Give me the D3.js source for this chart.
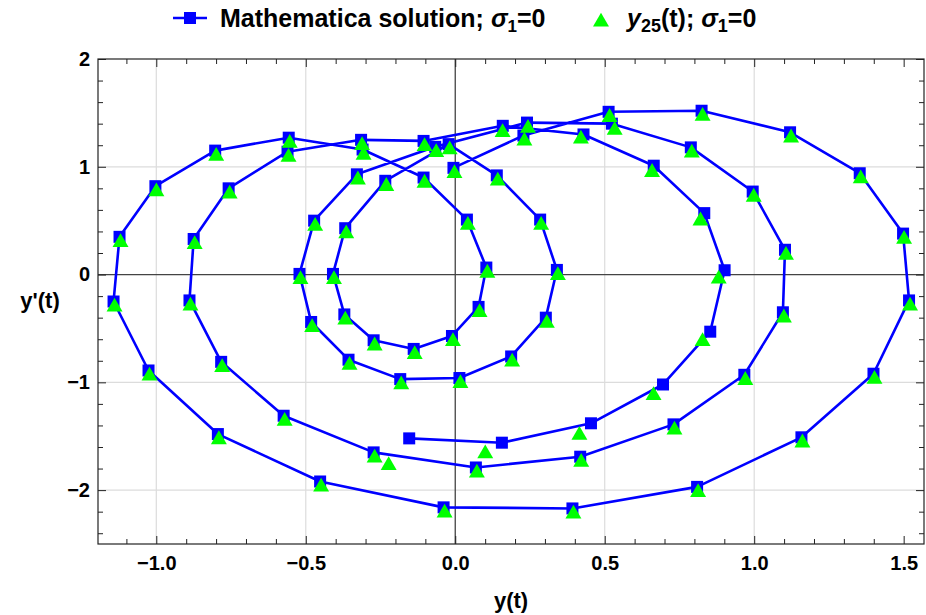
<!DOCTYPE html>
<html>
<head>
<meta charset="utf-8">
<script src="https://cdn.jsdelivr.net/npm/d3@7"></script>
<style>
body { margin: 0; background: #fff; }
text { font-family: "Liberation Sans", Arial, sans-serif; font-weight: bold; }
</style>
</head>
<body>
<div id="chart"></div>
<script>
// Mathematica solution, in time order: y(t) and y'(t)
var mmaY = [-0.006, 0.228, 0.513, 0.824, 1.12, 1.353, 1.498, 1.518, 1.399, 1.158,
  0.809, 0.392, -0.039, -0.452, -0.794, -1.026, -1.143, -1.123, -1.003, -0.803,
  -0.557, -0.310, -0.106, 0.039, 0.104, 0.078, -0.011, -0.139, -0.273, -0.371,
  -0.409, -0.368, -0.234, -0.022, 0.139, 0.284, 0.340, 0.303, 0.187, 0.014,
  -0.184, -0.357, -0.482, -0.521, -0.472, -0.329, -0.067, 0.240, 0.524, 0.788,
  0.995, 1.103, 1.096, 0.967, 0.730, 0.418, 0.069, -0.273, -0.574, -0.783,
  -0.889, -0.875, -0.758, -0.561, -0.315, -0.106, 0.159, 0.429, 0.664, 0.833,
  0.901, 0.853, 0.695, 0.454, 0.156, -0.154];
var mmaDY = [0.99, 1.29, 1.51, 1.52, 1.32, 0.94, 0.38, -0.24, -0.92, -1.51,
  -1.97, -2.17, -2.16, -1.92, -1.48, -0.89, -0.25, 0.35, 0.82, 1.15,
  1.27, 1.16, 0.90, 0.51, 0.065, -0.30, -0.57, -0.69, -0.61, -0.37,
  0.006, 0.43, 0.87, 1.21, 0.92, 0.51, 0.043, -0.40, -0.76, -0.96,
  -0.97, -0.79, -0.44, 0.006, 0.50, 0.93, 1.185, 1.41, 1.40, 1.18,
  0.77, 0.23, -0.35, -0.93, -1.39, -1.69, -1.79, -1.65, -1.31, -0.81,
  -0.24, 0.33, 0.80, 1.14, 1.25, 1.24, 1.38, 1.30, 1.01, 0.57,
  0.04, -0.53, -1.02, -1.38, -1.56, -1.52];

// y25(t) approximation at the same times
var y25Y = [-0.006, 0.228, 0.513, 0.824, 1.12, 1.353, 1.498, 1.518, 1.399, 1.158,
  0.809, 0.392, -0.039, -0.452, -0.794, -1.026, -1.143, -1.123, -1.003, -0.803,
  -0.557, -0.310, -0.106, 0.039, 0.104, 0.078, -0.011, -0.139, -0.273, -0.371,
  -0.409, -0.368, -0.234, -0.022, 0.139, 0.284, 0.340, 0.303, 0.187, 0.014,
  -0.184, -0.357, -0.482, -0.521, -0.472, -0.329, -0.067, 0.240, 0.530, 0.788,
  0.995, 1.103, 1.096, 0.967, 0.730, 0.418, 0.069, -0.273, -0.574, -0.783,
  -0.889, -0.875, -0.758, -0.561, -0.315, -0.106, 0.155, 0.417, 0.655, 0.817,
  0.878, 0.824, 0.660, 0.412, 0.097, -0.226];
var y25DY = [0.99, 1.29, 1.51, 1.52, 1.32, 0.94, 0.38, -0.24, -0.92, -1.51,
  -1.97, -2.17, -2.16, -1.92, -1.48, -0.89, -0.25, 0.35, 0.82, 1.15,
  1.27, 1.16, 0.90, 0.51, 0.065, -0.30, -0.57, -0.69, -0.61, -0.37,
  0.006, 0.43, 0.87, 1.21, 0.92, 0.51, 0.043, -0.40, -0.76, -0.96,
  -0.97, -0.79, -0.44, 0.006, 0.50, 0.93, 1.185, 1.41, 1.39, 1.18,
  0.77, 0.23, -0.35, -0.93, -1.39, -1.69, -1.79, -1.65, -1.31, -0.81,
  -0.24, 0.33, 0.80, 1.14, 1.25, 1.24, 1.37, 1.31, 1.00, 0.55,
  0.01, -0.57, -1.07, -1.44, -1.61, -1.72];

var xTicks = [-1.0, -0.5, 0.0, 0.5, 1.0, 1.5];
var xTickLabels = ["\u22121.0", "\u22120.5", "0.0", "0.5", "1.0", "1.5"];
var yTicks = [-2, -1, 0, 1, 2];
var yTickLabels = ["\u22122", "\u22121", "0", "1", "2"];
var xGrid = [-1.0, -0.5, 0.5, 1.0];
var yGrid = [-2, -1, 1];

var margin = {top: 59, right: 2, bottom: 71, left: 98},
    width = 926 - margin.left - margin.right,
    height = 615 - margin.top - margin.bottom;

var svg = d3.select("#chart")
  .append("svg")
    .attr("width", 926)
    .attr("height", 615);

var g = svg.append("g")
    .attr("transform", "translate(" + margin.left + "," + margin.top + ")");

var x = d3.scaleLinear().domain([-1.195, 1.568]).range([0, width]);
var y = d3.scaleLinear().domain([-2.5, 2]).range([height, 0]);

var blue = "#0000ff", green = "#00ff00";
var xMinor = d3.range(-11, 16).map(function(d) { return d / 10; }).filter(function(d) { return xTicks.indexOf(d) < 0; });
var yMinor = d3.range(-12, 11).map(function(d) { return d / 5; }).filter(function(d) { return yTicks.indexOf(d) < 0; });

// grid lines
g.selectAll(".gx").data(xGrid).enter().append("line")
  .attr("x1", d => x(d)).attr("x2", d => x(d))
  .attr("y1", 0).attr("y2", height)
  .attr("stroke", "#dcdcdc").attr("stroke-width", 1.2);
g.selectAll(".gy").data(yGrid).enter().append("line")
  .attr("x1", 0).attr("x2", width)
  .attr("y1", d => y(d)).attr("y2", d => y(d))
  .attr("stroke", "#dcdcdc").attr("stroke-width", 1.2);

// zero axes
g.append("line").attr("x1", x(0)).attr("x2", x(0)).attr("y1", 0).attr("y2", height)
  .attr("stroke", "#444").attr("stroke-width", 1.3);
g.append("line").attr("x1", 0).attr("x2", width).attr("y1", y(0)).attr("y2", y(0))
  .attr("stroke", "#444").attr("stroke-width", 1.3);

// frame ticks, pointing inwards
function tickAxis(axis, vals, size, labels, pad) {
  return axis.tickValues(vals).tickSizeInner(-size).tickSizeOuter(0).tickPadding(pad)
    .tickFormat(labels ? function(d, i) { return labels[i]; } : "");
}
var axes = [
  [d3.axisBottom, x, "translate(0," + height + ")", xTicks, xMinor, xTickLabels, 12],
  [d3.axisTop, x, "translate(0,0)", xTicks, xMinor, null, 12],
  [d3.axisLeft, y, "translate(0,0)", yTicks, yMinor, yTickLabels, 8],
  [d3.axisRight, y, "translate(" + width + ",0)", yTicks, yMinor, null, 8]
];
axes.forEach(function(a) {
  var maj = g.append("g").attr("transform", a[2]).call(tickAxis(a[0](a[1]), a[3], 8, a[5], a[6]));
  maj.select(".domain").remove();
  maj.selectAll("line").attr("stroke", "#222");
  maj.selectAll("text").style("font-size", "20px").style("font-family", "Liberation Sans, Arial, sans-serif").attr("fill", "#000");
  var mnr = g.append("g").attr("transform", a[2]).call(tickAxis(a[0](a[1]), a[4], 5, null, 0));
  mnr.select(".domain").remove();
  mnr.selectAll("line").attr("stroke", "#222");
});

// frame
g.append("rect").attr("width", width).attr("height", height)
  .attr("fill", "none").attr("stroke", "#222").attr("stroke-width", 1.2);

// Mathematica curve
var pts = mmaY.map(function(d, i) { return [d, mmaDY[i]]; });
var tri = y25Y.map(function(d, i) { return [d, y25DY[i]]; });

g.append("path")
  .datum(pts)
  .attr("fill", "none")
  .attr("stroke", blue)
  .attr("stroke-width", 2.6)
  .attr("stroke-linejoin", "round")
  .attr("d", d3.line().x(d => x(d[0])).y(d => y(d[1])));

g.selectAll(".sq").data(pts).enter().append("rect")
  .attr("x", d => x(d[0]) - 6).attr("y", d => y(d[1]) - 6)
  .attr("width", 12).attr("height", 12)
  .attr("fill", blue);

// triangle glyphs sit a little below their point, as in the original
var triangle = d3.symbol().type(d3.symbolTriangle).size(110);
g.selectAll(".tri").data(tri).enter().append("path")
  .attr("d", triangle)
  .attr("transform", d => "translate(" + (x(d[0]) + 1) + "," + (y(d[1]) + 5.5) + ")")
  .attr("fill", green);

// axis labels
svg.append("text").attr("x", margin.left + width / 2).attr("y", 608)
  .attr("text-anchor", "middle").style("font-size", "22px").text("y(t)");
svg.append("text").attr("x", 40).attr("y", 308)
  .attr("text-anchor", "middle").style("font-size", "22px").text("y'(t)");

// legend
var leg = svg.append("g");
leg.append("line").attr("x1", 173).attr("x2", 207).attr("y1", 18).attr("y2", 18)
  .attr("stroke", blue).attr("stroke-width", 2.6);
leg.append("rect").attr("x", 184).attr("y", 12).attr("width", 12).attr("height", 12).attr("fill", blue);
var t1 = leg.append("text").attr("x", 220).attr("y", 27).style("font-size", "25px");
t1.append("tspan").text("Mathematica solution; ");
t1.append("tspan").style("font-style", "italic").text("\u03c3");
t1.append("tspan").attr("dy", 5).style("font-size", "17px").text("1");
t1.append("tspan").attr("dy", -5).text("=0");

leg.append("path").attr("d", triangle).attr("transform", "translate(601,22)").attr("fill", green);
var t2 = leg.append("text").attr("x", 627).attr("y", 27).style("font-size", "25px");
t2.append("tspan").style("font-style", "italic").text("y");
t2.append("tspan").attr("dy", 5).style("font-size", "18px").text("25");
t2.append("tspan").attr("dy", -5).text("(t); ");
t2.append("tspan").style("font-style", "italic").text("\u03c3");
t2.append("tspan").attr("dy", 5).style("font-size", "18px").text("1");
t2.append("tspan").attr("dy", -5).text("=0");
</script>
</body>
</html>
